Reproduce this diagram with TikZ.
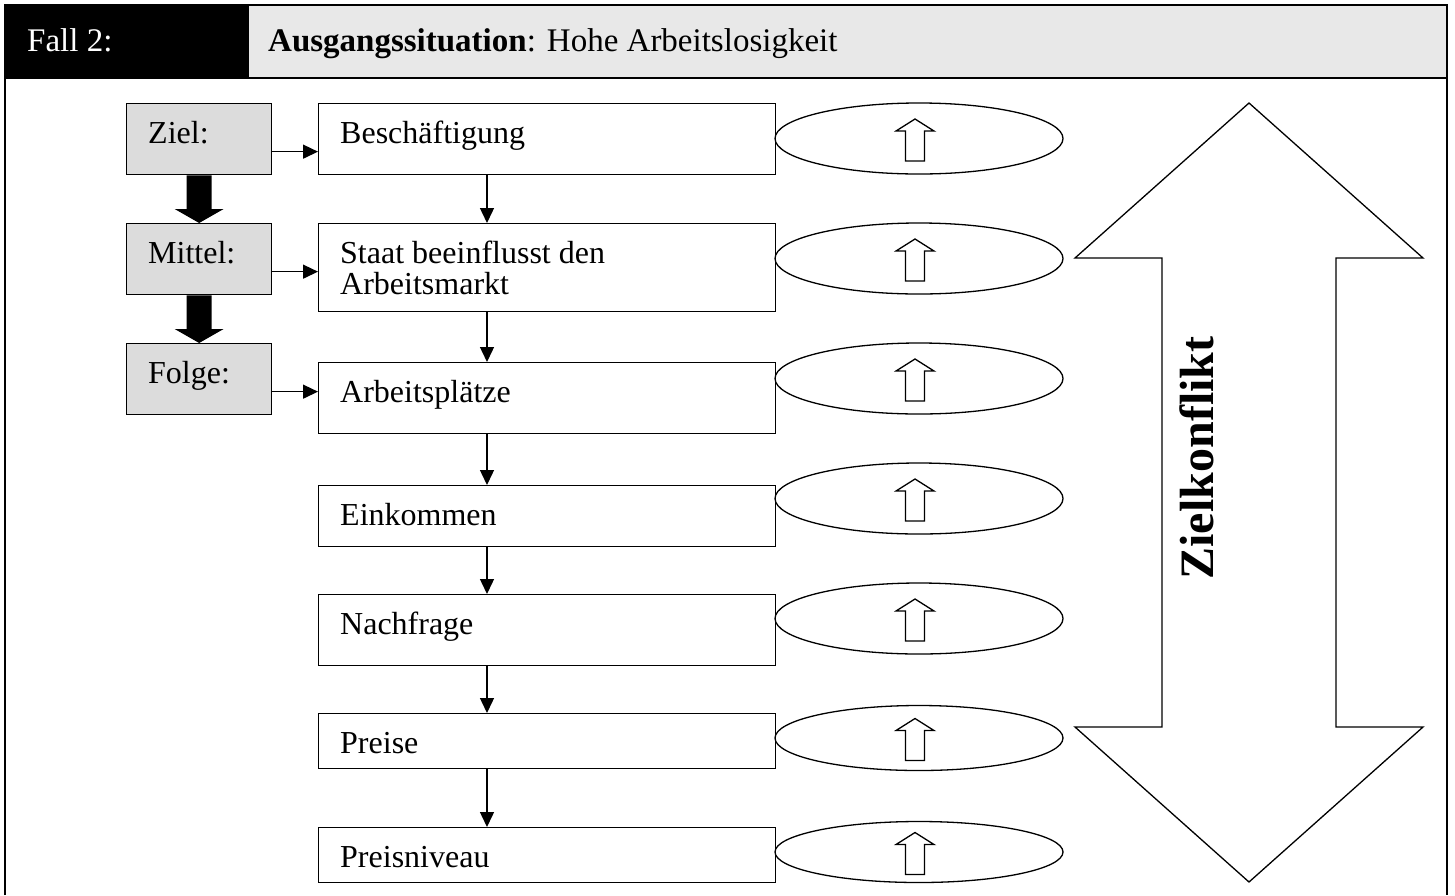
\documentclass[tikz,border=0pt]{standalone}
\usepackage{fontspec}
\setmainfont{Liberation Serif}
\usetikzlibrary{arrows.meta,shapes.geometric}
\definecolor{boxgray}{HTML}{DCDCDC}
\definecolor{headgray}{HTML}{E8E8E8}
\tikzset{
  wbox/.style={draw, line width=1.3pt, fill=white, anchor=north west, minimum width=457pt, inner sep=0pt},
  gbox/.style={draw, line width=1.3pt, fill=boxgray, anchor=north west, minimum width=145pt, minimum height=71pt, inner sep=0pt},
  txt/.style={anchor=base west, inner sep=0pt, font=\fontsize{32}{31}\selectfont, align=left},
  headtxt/.style={anchor=base west, inner sep=0pt, font=\fontsize{33}{36}\selectfont},
  oval/.style={ellipse, draw, line width=1.3pt, minimum width=288pt, minimum height=71pt, inner sep=0pt},
  conn/.style={line width=1.4pt, -{Triangle[length=15pt,width=14pt]}},
  uparrow/.style={line width=1.3pt, line join=miter},
}
\begin{document}
\begin{tikzpicture}[x=1pt,y=-1pt]
\useasboundingbox (0,0) rectangle (1455,895);
% header
\fill[black] (5,5) rectangle (248,78);
\fill[headgray] (248,5) rectangle (1447,78);
\draw[line width=1.3pt] (248,5) -- (248,78);
\draw[line width=2pt] (5,895) -- (5,5) -- (1447,5) -- (1447,895);
\draw[line width=2pt] (5,78) -- (1447,78);
\node[headtxt, text=white] (fall) at (27,51) {Fall 2:};
\node[headtxt] (aus) at (268,51) {\textbf{Ausgangssituation}: Hohe Arbeitslosigkeit};

% gray boxes
\node[gbox] (g1) at (126,103) {};
\node[gbox] (g2) at (126,223) {};
\node[gbox] (g3) at (126,343) {};
\node[txt] (gt1) at ([shift={(22,40)}]g1.north west) {Ziel:};
\node[txt] (gt2) at ([shift={(22,40)}]g2.north west) {Mittel:};
\node[txt] (gt3) at ([shift={(22,40)}]g3.north west) {Folge:};

% thick arrows
\foreach \a/\b in {g1/g2, g2/g3}{
  \fill ([xshift=-12.5pt]\a.south) -- ([xshift=-12.5pt,yshift=14pt]\b.north)
    -- ([xshift=-24.5pt,yshift=14pt]\b.north) -- (\b.north)
    -- ([xshift=24.5pt,yshift=14pt]\b.north) -- ([xshift=12.5pt,yshift=14pt]\b.north)
    -- ([xshift=12.5pt]\a.south) -- cycle;
}

% white boxes
\node[wbox, minimum height=71pt] (b1) at (318,103) {};
\node[wbox, minimum height=88pt] (b2) at (318,223) {};
\node[wbox, minimum height=71pt] (b3) at (318,362) {};
\node[wbox, minimum height=61pt] (b4) at (318,485) {};
\node[wbox, minimum height=71pt] (b5) at (318,594) {};
\node[wbox, minimum height=55pt] (b6) at (318,713) {};
\node[wbox, minimum height=55pt] (b7) at (318,827) {};
\node[txt] (t1) at ([shift={(22,40)}]b1.north west) {Beschäftigung};
\node[txt] (t2) at ([shift={(22,71.5)}]b2.north west) {Staat beeinflusst den\\Arbeitsmarkt};
\node[txt] (t3) at ([shift={(22,40)}]b3.north west) {Arbeitsplätze};
\node[txt] (t4) at ([shift={(22,40)}]b4.north west) {Einkommen};
\node[txt] (t5) at ([shift={(22,40)}]b5.north west) {Nachfrage};
\node[txt] (t6) at ([shift={(22,40)}]b6.north west) {Preise};
\node[txt] (t7) at ([shift={(22,40)}]b7.north west) {Preisniveau};

% connectors left -> boxes
\draw[conn] ([yshift=-12.5pt]g1.east) -- ([yshift=-12.5pt]g1.east -| b1.west);
\draw[conn] ([yshift=-12.5pt]g2.east) -- ([yshift=-12.5pt]g2.east -| b2.west);
\draw[conn] ([yshift=-12.5pt]g3.east) -- ([yshift=-12.5pt]g3.east -| b3.west);

% vertical connectors
\foreach \a/\b in {b1/b2, b2/b3, b3/b4, b4/b5, b5/b6, b6/b7}{
  \draw[conn] ([xshift=169pt]\a.south west) -- ([xshift=169pt]\b.north west);
}

% ellipses
\node[oval] (e1) at (919,138.5) {};
\node[oval] (e2) at (919,258.5) {};
\node[oval] (e3) at (919,378.5) {};
\node[oval] (e4) at (919,498.5) {};
\node[oval] (e5) at (919,618.5) {};
\node[oval, minimum height=65pt] (e6) at (919,738) {};
\node[oval, minimum height=61pt] (e7) at (919,852) {};
\foreach \e in {e1,e2,e3,e4,e5,e6,e7}{
  \draw[uparrow] ([shift={(-4,-19.5)}]\e.center) -- ([shift={(15,-7.5)}]\e.center)
    -- ([shift={(5.5,-7.5)}]\e.center) -- ([shift={(5.5,22.5)}]\e.center)
    -- ([shift={(-13.5,22.5)}]\e.center) -- ([shift={(-13.5,-7.5)}]\e.center)
    -- ([shift={(-23,-7.5)}]\e.center) -- cycle;
}

% big double arrow
\draw[line width=1.3pt, line join=miter] (1249,103) -- (1423,258) -- (1336,258) -- (1336,727)
  -- (1423,727) -- (1249,882) -- (1075,727) -- (1162,727) -- (1162,258) -- (1075,258) -- cycle;
\node[rotate=90, inner sep=0pt, font=\bfseries\fontsize{48}{52}\selectfont] (zk) at (1197,458) {Zielkonflikt};
\end{tikzpicture}
\end{document}
